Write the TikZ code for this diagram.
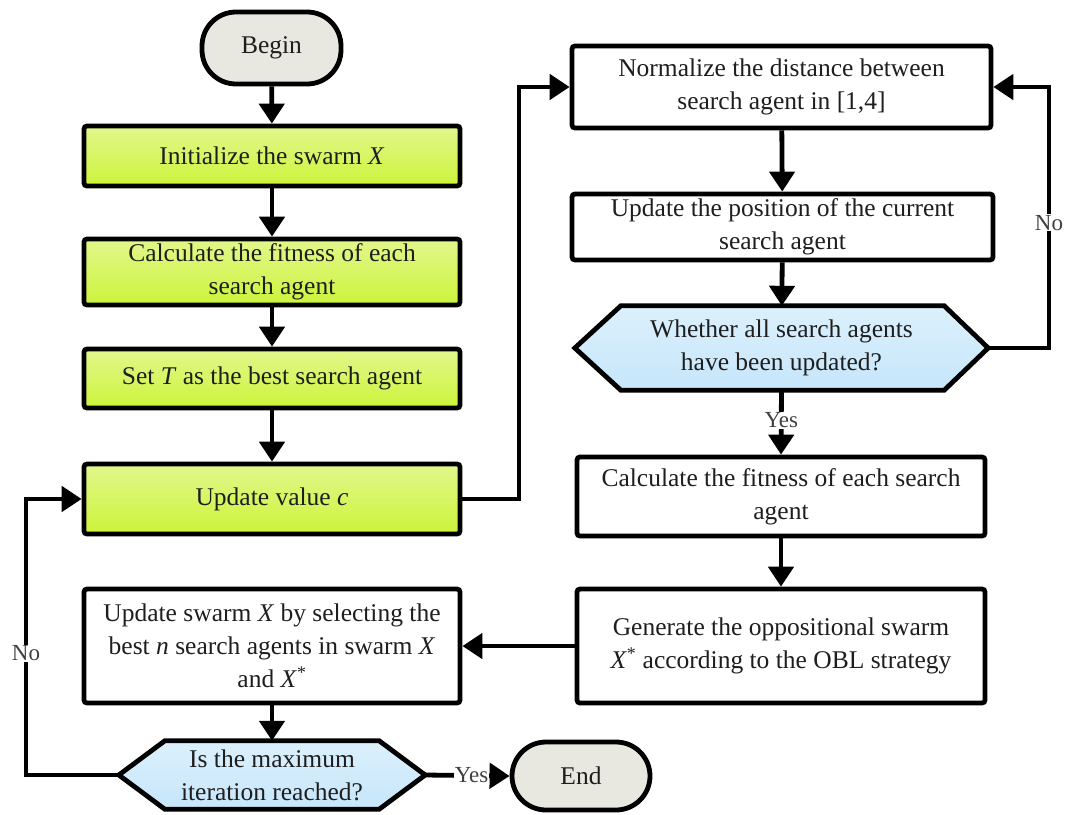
\documentclass[tikz,border=0pt]{standalone}
\usepackage{fontspec}
\setmainfont{Liberation Serif}
\usetikzlibrary{arrows.meta,backgrounds,calc}
\definecolor{txt}{HTML}{1E1E1E}
\definecolor{gtop}{HTML}{E2F78C}
\definecolor{gbot}{HTML}{CCF43A}
\definecolor{btop}{HTML}{DCF0FC}
\definecolor{bbot}{HTML}{C6E6FB}
\definecolor{term}{HTML}{E8E8E1}
\begin{document}
\begin{tikzpicture}[x=1pt,y=1pt,
  box/.style={draw=black, line width=4.8pt, rounded corners=3pt, align=center,
    font=\fontsize{25.5}{33}\selectfont, text=txt, inner sep=0pt},
  greenbox/.style={box, top color=gtop, bottom color=gbot},
  whitebox/.style={box, fill=white},
  termbox/.style={box, fill=term, rounded corners=34pt},
  hexnode/.style={align=center, font=\fontsize{25.5}{33}\selectfont, text=txt, inner sep=0pt},
  hexpath/.style={draw=black, line width=4.8pt, line join=miter, top color=btop, bottom color=bbot},
  conn/.style={line width=4.8pt, line join=miter},
  arr/.style={conn, -{Triangle[length=20pt,width=25pt]}},
  lbl/.style={fill=white, inner sep=1pt, font=\fontsize{23}{24}\selectfont, text=txt!85}
]
\useasboundingbox (0,0) rectangle (1067,-814);

\node[termbox, minimum width=139pt, minimum height=72pt] (begin) at (271.5,-48) {Begin};
\node[greenbox, minimum width=376pt, minimum height=60pt] (init) at (272,-156) {Initialize the swarm \textit{X}};
\node[greenbox, minimum width=376pt, minimum height=66pt] (calc) at (272,-272) {Calculate the fitness of each\\search agent};
\node[greenbox, minimum width=376pt, minimum height=59pt] (sett) at (272,-378.5) {Set \textit{T} as the best search agent};
\node[greenbox, minimum width=376pt, minimum height=70pt] (upc) at (272,-499) {Update value \textit{c}};

\node[whitebox, minimum width=419pt, minimum height=82pt] (norm) at (781.5,-87) {Normalize the distance between\\search agent in [1,4]};
\node[whitebox, minimum width=421pt, minimum height=66pt] (upos) at (782.5,-227) {Update the position of the current\\search agent};
\node[hexnode, minimum width=413pt, minimum height=84pt] (hex1) at (781.5,-348) {Whether all search agents\\have been updated?};
\node[whitebox, minimum width=408pt, minimum height=79pt] (calc2) at (781,-496.5) {Calculate the fitness of each search\\agent};
\node[whitebox, minimum width=408pt, minimum height=114pt] (gen) at (781,-646) {Generate the oppositional swarm\\\textit{X}\textsuperscript{*} according to the OBL strategy};

\node[whitebox, minimum width=376pt, minimum height=114pt] (ups) at (272,-646) {Update swarm \textit{X} by selecting the\\best \textit{n} search agents in swarm \textit{X}\\and \textit{X}\textsuperscript{*}};
\node[hexnode, minimum width=306pt, minimum height=68pt] (hex2) at (272,-775) {Is the maximum\\iteration reached?};
\node[termbox, minimum width=138pt, minimum height=68pt] (end) at (581,-776) {End};

\begin{scope}[on background layer]
  \path[hexpath] (hex1.west) -- ($(hex1.north west)+(46,0)$) -- ($(hex1.north east)+(-44,0)$) -- (hex1.east)
     -- ($(hex1.south east)+(-44,0)$) -- ($(hex1.south west)+(46,0)$) -- cycle;
  \path[hexpath] (hex2.west) -- ($(hex2.north west)+(46,0)$) -- ($(hex2.north east)+(-46,0)$) -- (hex2.east)
     -- ($(hex2.south east)+(-46,0)$) -- ($(hex2.south west)+(46,0)$) -- cycle;
\end{scope}

\coordinate (c1) at (519,-499);
\coordinate (c2) at (1049,-348);
\coordinate (c3) at (26,-775);

\draw[arr] (begin) -- (init);
\draw[arr] (init) -- (calc);
\draw[arr] (calc) -- (sett);
\draw[arr] (sett) -- (upc);
\draw[arr] (upc.east) -- (c1) |- (norm.west);
\draw[arr] (norm) -- (upos);
\draw[arr] (upos) -- (hex1);
\draw[arr] (hex1.east) -- (c2) |- node[lbl, pos=0.24] {No} (norm.east);
\draw[arr] (hex1.south) -- node[lbl, pos=0.47] {Yes} (calc2.north);
\draw[arr] (calc2) -- (gen);
\draw[arr] (gen.west) -- (ups.east);
\draw[arr] (ups) -- (hex2);
\draw[arr] (hex2.east) -- node[lbl, pos=0.55] {Yes} (end.west);
\draw[arr] (hex2.west) -- (c3) |- node[lbl, pos=0.22] {No} (upc.west);
\end{tikzpicture}
\end{document}
